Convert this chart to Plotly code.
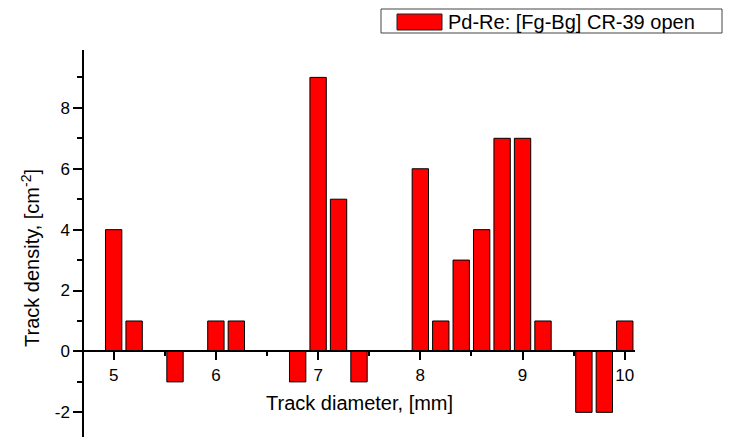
import plotly.graph_objects as go

# Track diameter [mm] and density [cm^-2]
diametro = [5.0, 5.2, 5.6, 6.0, 6.2, 6.8, 7.0, 7.2, 7.4, 8.0, 8.2, 8.4, 8.6, 8.8, 9.0, 9.2, 9.6, 9.8, 10.0]
densidade = [4, 1, -1, 1, 1, -1, 9, 5, -1, 6, 1, 3, 4, 7, 7, 1, -2, -2, 1]

y_ticks = [-2, 0, 2, 4, 6, 8]
y_ticktext = ['-2', '0', '2', '4', '6', '8']
x_ticks = [5, 6, 7, 8, 9, 10]

nome_serie = 'Pd-Re: [Fg-Bg] CR-39 open'

W, H = 732, 437
ml, mr, mt, mb = 83, 97, 50, 0
y_range = [-2.81, 9.9]
pos_zero = (0 - y_range[0]) / (y_range[1] - y_range[0])

fonte = 'Liberation Sans, Arial, sans-serif'

fig = go.Figure()

fig.add_trace(go.Bar(x=diametro, y=densidade, width=0.16, name=nome_serie,
                     marker=dict(color='#ff0000', line=dict(color='black', width=1))))

fig.update_layout(
    width=W, height=H, autosize=False,
    margin=dict(l=ml, r=mr, t=mt, b=mb, autoexpand=False),
    plot_bgcolor='white', paper_bgcolor='white',
    showlegend=False,
    font=dict(family=fonte, color='black'),
    xaxis=dict(range=[4.7, 10.1], anchor='free', position=pos_zero, automargin=False,
               showline=True, linecolor='black', linewidth=1.5,
               ticks='outside', ticklen=8, tickwidth=1.5, tickcolor='black',
               tickvals=x_ticks, tickfont=dict(size=17),
               minor=dict(dtick=0.5, tick0=5, ticks='outside', ticklen=4, tickwidth=1.5, tickcolor='black'),
               showgrid=False, zeroline=False),
    yaxis=dict(range=y_range, anchor='free', position=0, automargin=False,
               showline=True, linecolor='black', linewidth=1.5,
               ticks='outside', ticklen=9, tickwidth=1.5, tickcolor='black',
               tickvals=y_ticks, ticktext=y_ticktext, tickfont=dict(size=17),
               minor=dict(dtick=1, tick0=0, ticks='outside', ticklen=5, tickwidth=1.5, tickcolor='black'),
               showgrid=False, zeroline=False),
)


def px(x):
    return (x - ml) / (W - ml - mr)


def py(y):
    return (H - y - mb) / (H - mt - mb)


# axis titles
fig.add_annotation(text='Track diameter, [mm]', xref='paper', yref='paper',
                   x=px(359), y=py(403), showarrow=False,
                   font=dict(size=20), xanchor='center', yanchor='middle')
fig.add_annotation(text='Track density, [cm<sup>-2</sup>]', xref='paper', yref='paper',
                   x=px(30), y=py(258), showarrow=False, textangle=-90,
                   font=dict(size=20), xanchor='center', yanchor='middle')

# legend box drawn by hand (wide swatch like the original)
fig.add_shape(type='rect', xref='paper', yref='paper', x0=px(381), x1=px(722), y0=py(33), y1=py(9),
              line=dict(color='#444444', width=1), fillcolor='white')
fig.add_shape(type='rect', xref='paper', yref='paper', x0=px(397), x1=px(442), y0=py(30), y1=py(14),
              line=dict(color='#222222', width=1), fillcolor='#ff0000')
fig.add_annotation(text=nome_serie, xref='paper', yref='paper', x=px(446), y=py(21.5),
                   showarrow=False, xanchor='left', yanchor='middle', font=dict(size=20))

# page margin removed so the figure sits at the window corner
fig.write_html("out.html", config={'displayModeBar': False},
               post_script="document.body.style.margin='0';")
